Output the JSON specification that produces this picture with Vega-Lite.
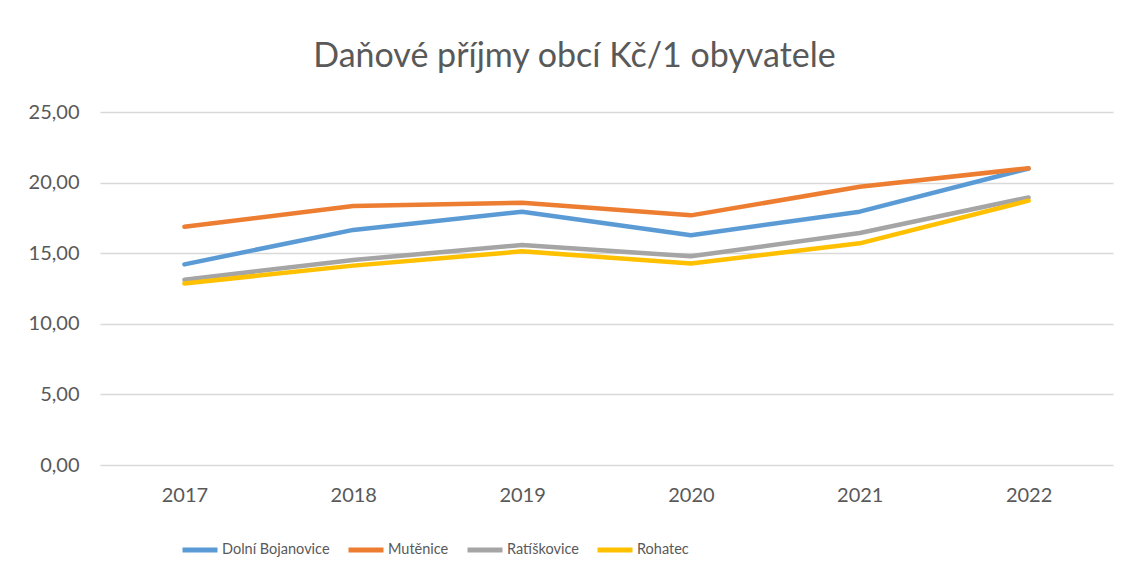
{
  "$schema": "https://vega.github.io/schema/vega-lite/v6.json",
  "width": 1013,
  "height": 353,
  "autosize": {"type": "none"},
  "padding": {"left": 100, "top": 112, "right": 17, "bottom": 116},
  "background": "white",
  "config": {
    "font": "Lato",
    "view": {"stroke": null},
    "axis": {"labelColor": "#595959", "labelFont": "Lato", "labelFontSize": 20, "title": null}
  },
  "title": {
    "text": "Daňové příjmy obcí Kč/1 obyvatele",
    "font": "Lato",
    "fontSize": 34,
    "fontWeight": "normal",
    "color": "#595959",
    "anchor": "middle",
    "dx": -32,
    "offset": 28
  },
  "data": {
    "values": [
      {"rok": "2017", "obec": "Dolní Bojanovice", "hodnota": 14.21},
      {"rok": "2018", "obec": "Dolní Bojanovice", "hodnota": 16.65},
      {"rok": "2019", "obec": "Dolní Bojanovice", "hodnota": 17.94},
      {"rok": "2020", "obec": "Dolní Bojanovice", "hodnota": 16.27},
      {"rok": "2021", "obec": "Dolní Bojanovice", "hodnota": 17.94},
      {"rok": "2022", "obec": "Dolní Bojanovice", "hodnota": 21.0},
      {"rok": "2017", "obec": "Mutěnice", "hodnota": 16.88},
      {"rok": "2018", "obec": "Mutěnice", "hodnota": 18.34},
      {"rok": "2019", "obec": "Mutěnice", "hodnota": 18.58},
      {"rok": "2020", "obec": "Mutěnice", "hodnota": 17.68},
      {"rok": "2021", "obec": "Mutěnice", "hodnota": 19.7},
      {"rok": "2022", "obec": "Mutěnice", "hodnota": 21.02},
      {"rok": "2017", "obec": "Ratíškovice", "hodnota": 13.12},
      {"rok": "2018", "obec": "Ratíškovice", "hodnota": 14.52},
      {"rok": "2019", "obec": "Ratíškovice", "hodnota": 15.58},
      {"rok": "2020", "obec": "Ratíškovice", "hodnota": 14.78},
      {"rok": "2021", "obec": "Ratíškovice", "hodnota": 16.43},
      {"rok": "2022", "obec": "Ratíškovice", "hodnota": 18.95},
      {"rok": "2017", "obec": "Rohatec", "hodnota": 12.86},
      {"rok": "2018", "obec": "Rohatec", "hodnota": 14.12},
      {"rok": "2019", "obec": "Rohatec", "hodnota": 15.13},
      {"rok": "2020", "obec": "Rohatec", "hodnota": 14.27},
      {"rok": "2021", "obec": "Rohatec", "hodnota": 15.7},
      {"rok": "2022", "obec": "Rohatec", "hodnota": 18.72}
    ]
  },
  "mark": {"type": "line", "strokeWidth": 4.5, "strokeCap": "round", "strokeJoin": "round"},
  "encoding": {
    "x": {
      "field": "rok",
      "type": "ordinal",
      "scale": {"type": "point", "padding": 0.5},
      "axis": {
        "labelAngle": 0,
        "ticks": false,
        "domain": false,
        "grid": false,
        "labelPadding": 20
      }
    },
    "y": {
      "field": "hodnota",
      "type": "quantitative",
      "scale": {"domain": [0, 25]},
      "axis": {
        "values": [0, 5, 10, 15, 20, 25],
        "labelExpr": "replace(format(datum.value, '.2f'), '.', ',')",
        "ticks": false,
        "domain": false,
        "grid": true,
        "gridColor": "#d9d9d9",
        "gridWidth": 1.3,
        "labelPadding": 21
      }
    },
    "color": {
      "field": "obec",
      "type": "nominal",
      "scale": {
        "domain": ["Dolní Bojanovice", "Mutěnice", "Ratíškovice", "Rohatec"],
        "range": ["#5B9BD5", "#ED7D31", "#A5A5A5", "#FFC000"]
      },
      "legend": {
        "title": null,
        "orient": "none",
        "legendX": 80,
        "legendY": 418,
        "direction": "horizontal",
        "symbolType": "stroke",
        "symbolSize": 1225,
        "symbolStrokeWidth": 5,
        "labelFont": "Lato",
        "labelFontSize": 14.5,
        "labelColor": "#595959",
        "labelOffset": 2,
        "columnPadding": 8
      }
    }
  }
}
